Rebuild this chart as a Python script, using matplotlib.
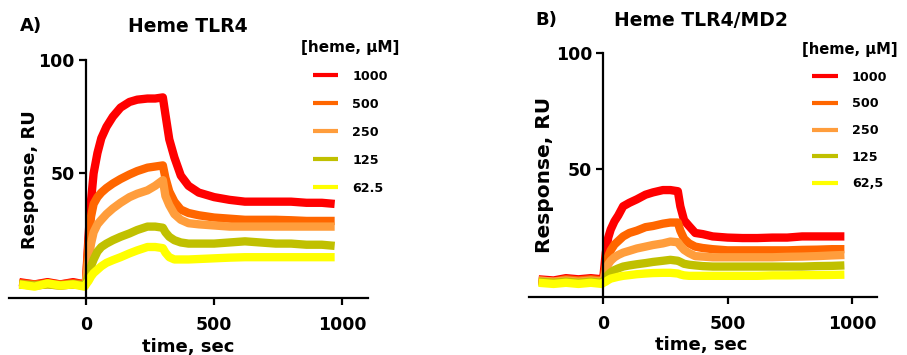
import matplotlib.pyplot as plt

# time points (sec), shared by all traces
tiempo = [-260, -200, -150, -100, -50, -5, 0, 10, 20, 30, 45, 60, 80, 105, 135, 170, 200,
          240, 270, 300, 310, 325, 345, 370, 400, 440, 500, 560, 620, 680, 740, 800,
          860, 920, 970]

etiquetas_a = ['1000', '500', '250', '125', '62.5']
etiquetas_b = ['1000', '500', '250', '125', '62,5']
colores = ['#ff0000', '#ff6600', '#ff9d3c', '#c0c000', '#ffff00']

# A) Heme TLR4
a_1000 = [2, 1, 2, 1, 2, 1, 2, 22, 38, 50, 59, 65.5, 70.5, 75, 79, 81.5, 82.5, 83, 83, 83.5,
          76, 65, 57, 49, 44.5, 41.5, 39.5, 38.3, 37.5, 37.5, 37.5, 37.5, 37, 37, 36.5]
a_500 = [1.5, 1, 1.5, 1, 1.5, 1, 2, 19, 31, 36.5, 39.5, 41.5, 43.5, 45.5, 47.5, 49.5, 51, 52.5,
         53, 53.5, 48, 42, 37.5, 34, 32.5, 31.5, 30.5, 30, 29.5, 29.5, 29.5, 29.3, 29, 29, 29]
a_250 = [1, 0.5, 1, 0.5, 1, 0.5, 2, 12, 19, 24, 27.5, 29.5, 32, 34.5, 37, 39.5, 41, 42.5, 44.5,
         47, 40, 36, 32, 29.5, 28, 27.5, 27, 26.5, 26.5, 26.5, 26.5, 26.5, 26.5, 26.5, 26.5]
a_125 = [1, 0.5, 1, 0.5, 1, 0.5, 1.5, 5, 9, 12, 15.5, 17.5, 19, 20.5, 22, 23.5, 25, 26.5, 26.5,
         26, 24, 22, 20.5, 19.5, 19, 19, 19, 19.5, 20, 19.5, 19, 19, 18.5, 18.5, 18]
a_62 = [1, 0, 1.5, 0.5, 1, 0, 1, 2.5, 4.5, 6, 7.5, 9, 10.5, 11.7, 13, 14.7, 16, 17.5, 17.5, 17,
        15, 13, 12, 12, 12, 12.2, 12.5, 12.8, 13, 13, 13, 13, 13, 13, 13]

# B) Heme TLR4/MD2
b_1000 = [2.5, 2, 3, 2.5, 3, 2.5, 3, 14, 20.5, 24, 27.5, 30, 34, 35.5, 37, 39, 40, 41, 41, 40.5,
          34, 28, 25.5, 22.5, 22, 21, 20.5, 20.3, 20.3, 20.5, 20.5, 21, 21, 21, 21]
b_500 = [2, 1.5, 2.5, 2, 2.5, 2, 2, 8.5, 12.5, 15, 17.5, 19, 21, 22.5, 23.5, 25, 25.5, 26.5, 27,
         27, 23.5, 20, 18, 16.6, 16, 15.5, 15, 15, 15, 15, 15, 15.2, 15.3, 15.5, 15.5]
b_250 = [2, 1.5, 2, 1.5, 2, 1.5, 2, 6, 9, 10.5, 12, 13, 14, 14.8, 15.8, 16.6, 17.3, 18, 18.8,
         18.5, 17, 15.2, 13.8, 12.5, 12.3, 12, 12, 12, 12, 12, 12.2, 12.3, 12.5, 12.8, 13]
b_125 = [1.5, 1, 1.5, 1, 1.5, 1, 1.5, 3, 4.5, 5.5, 6.5, 7.2, 8, 8.5, 9, 9.5, 10, 10.5, 10.9,
         10.5, 10, 9.2, 8.8, 8.5, 8.2, 8, 8, 8, 8, 8, 8, 8, 8.2, 8.3, 8.5]
b_62 = [1, 0.5, 1, 0.5, 1, 0.5, 1, 1.5, 2.2, 2.8, 3.2, 3.6, 4, 4.3, 4.7, 5, 5.2, 5.3, 5.3, 5,
        4.6, 4.2, 4, 4, 4, 4, 4, 4, 4, 4.2, 4.2, 4.3, 4.3, 4.4, 4.5]

plt.rcParams['font.family'] = 'DejaVu Sans'
plt.rcParams['font.weight'] = 'bold'

fig = plt.figure(figsize=(9.07, 3.55), dpi=100)
W, H = 907.0, 355.0


def panel(rect, series, etiquetas, letra, titulo, letra_xy, titulo_xy, ylab_xy, xlab_xy,
          leg_xy, ylab_size, leg_sp, leg_title_size):
    ax = fig.add_axes(rect)
    for datos, color, etq in zip(series, colores, etiquetas):
        ax.plot(tiempo, datos, color=color, lw=6, label=etq, solid_capstyle='butt')
    ax.set_xlim(-300, 1100)
    ax.set_ylim(-5, 100)
    ax.set_xticks([0, 500, 1000])
    ax.set_yticks([50, 100])
    ax.spines['top'].set_visible(False)
    ax.spines['right'].set_visible(False)
    ax.spines['left'].set_position(('data', 0))
    for s in ['left', 'bottom']:
        ax.spines[s].set_linewidth(1.6)
    ax.tick_params(width=1.6, length=5, labelsize=12.5)
    ax.tick_params(axis='x', pad=8)
    ax.tick_params(axis='y', pad=3)
    for lab in ax.get_xticklabels() + ax.get_yticklabels():
        lab.set_fontweight('bold')

    fig.text(letra_xy[0] / W, 1 - letra_xy[1] / H, letra, fontsize=13, fontweight='bold',
             ha='left', va='center')
    fig.text(titulo_xy[0] / W, 1 - titulo_xy[1] / H, titulo, fontsize=13.5, fontweight='bold',
             ha='center', va='center')
    fig.text(ylab_xy[0] / W, 1 - ylab_xy[1] / H, 'Response, RU', fontsize=ylab_size,
             fontweight='bold', rotation=90, ha='center', va='center')
    fig.text(xlab_xy[0] / W, 1 - xlab_xy[1] / H, 'time, sec', fontsize=13, fontweight='bold',
             ha='center', va='center')

    leg = ax.legend(loc='upper left', bbox_to_anchor=(leg_xy[0] / W, 1 - leg_xy[1] / H),
                    bbox_transform=fig.transFigure, frameon=False, borderpad=0,
                    borderaxespad=0, title='[heme, μM]', fontsize=9.2, handlelength=2.0,
                    handletextpad=1.1, labelspacing=leg_sp)
    leg.get_title().set_fontsize(leg_title_size)
    leg.get_title().set_fontweight('bold')
    for ln in leg.get_lines():
        ln.set_linewidth(3)
    for tx in leg.get_texts():
        tx.set_fontweight('bold')
    return ax


panel([9 / 907, 1 - 298 / 355, 359 / 907, 238 / 355],
      [a_1000, a_500, a_250, a_125, a_62], etiquetas_a,
      'A)', 'Heme TLR4', (20, 26), (188, 26), (30, 180), (188, 347), (301, 40), 13,
      1.17, 11)

panel([528.7 / 907, 1 - 296.7 / 355, 348 / 907, 243.4 / 355],
      [b_1000, b_500, b_250, b_125, b_62], etiquetas_b,
      'B)', 'Heme TLR4/MD2', (535, 20), (701, 20), (545, 175), (701, 345), (802, 42), 14.5,
      1.07, 10.6)

plt.savefig('out.png', dpi=100)
